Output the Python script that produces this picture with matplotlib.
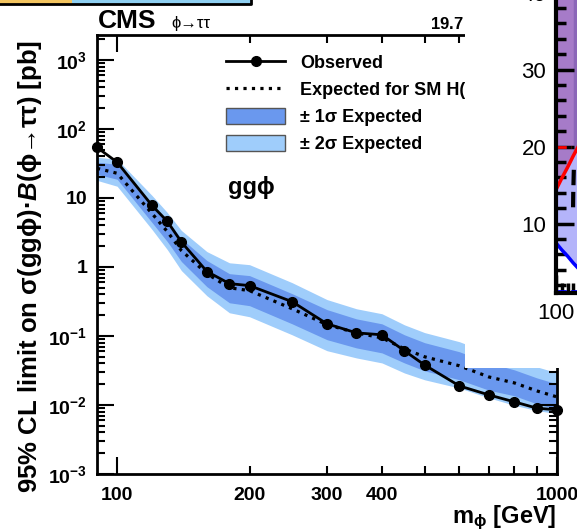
import numpy as np
import matplotlib.pyplot as plt
from matplotlib.lines import Line2D
from matplotlib.patches import Patch, Rectangle
from matplotlib.ticker import LogLocator, NullFormatter, MultipleLocator

plt.rcParams['font.family'] = ['Liberation Sans', 'DejaVu Sans']
plt.rcParams['font.weight'] = 'bold'
plt.rcParams['mathtext.fontset'] = 'custom'
plt.rcParams['mathtext.rm'] = 'Liberation Sans'
plt.rcParams['mathtext.bf'] = 'Liberation Sans:bold'
plt.rcParams['mathtext.it'] = 'Liberation Sans:italic'
plt.rcParams['mathtext.default'] = 'bf'

# ggphi limits (pb) vs mass (GeV)
masses = [90, 100, 120, 130, 140, 160, 180, 200, 250, 300, 350, 400, 450, 500, 600, 700, 800, 900, 1000]
observed = [54, 33, 7.8, 4.6, 2.3, 0.86, 0.574, 0.537, 0.314, 0.150, 0.111, 0.104, 0.061, 0.038,
            0.0189, 0.0140, 0.0111, 0.0090, 0.0085]
expected = [26.9, 22.8, 5.97, 3.27, 1.73, 0.80, 0.50, 0.454, 0.248, 0.146, 0.111, 0.094, 0.065, 0.050,
            0.037, 0.0255, 0.0209, 0.016, 0.0131]
plus2 = [38.9, 36.4, 10.9, 6.17, 3.38, 1.67, 1.15, 1.08, 0.592, 0.337, 0.248, 0.210, 0.145, 0.112,
         0.0826, 0.0569, 0.0467, 0.0357, 0.0293]
plus1 = [32.9, 30.8, 8.35, 4.73, 2.58, 1.24, 0.80, 0.75, 0.410, 0.241, 0.177, 0.150, 0.104, 0.080,
         0.0591, 0.0407, 0.0323, 0.0247, 0.0202]
minus1 = [22.0, 18.7, 4.42, 2.34, 1.20, 0.518, 0.303, 0.275, 0.150, 0.0884, 0.0672, 0.0569, 0.0407, 0.0313,
          0.0232, 0.0164, 0.0136, 0.0104, 0.0087]
minus2 = [18.0, 14.8, 3.50, 1.79, 0.886, 0.383, 0.217, 0.190, 0.104, 0.0612, 0.0481, 0.0407, 0.0291, 0.0232,
          0.0176, 0.0127, 0.0099, 0.0083, 0.0075]

ytick_vals = [1e-3, 1e-2, 1e-1, 1, 10, 1e2, 1e3]
ytick_labels = [r'$10^{-3}$', r'$10^{-2}$', r'$10^{-1}$', '1', '10', r'$10^{2}$', r'$10^{3}$']

# neighbouring panel (tanb exclusion), left edge only
nb_mass = [100, 105, 110, 115, 120]
nb_red = [14.4, 15.9, 17.3, 18.8, 20.2]
nb_blue = [7.5, 6.6, 5.8, 4.9, 4.1]

c1 = '#6a98ee'
c2 = '#9fcdfb'

fig = plt.figure(figsize=(5.77, 5.32), dpi=100)
W, H = 577, 532
ax = fig.add_axes([97 / W, 58 / H, 460 / W, 439 / H])

ax.fill_between(masses, minus2, plus2, color=c2, lw=0)
ax.fill_between(masses, minus1, plus1, color=c1, lw=0)
ax.plot(masses, expected, color='k', ls=':', lw=2.3)
ax.plot(masses, observed, color='k', lw=2, marker='o', ms=7, clip_on=False, zorder=5)

ax.set_xscale('log')
ax.set_yscale('log')
ax.set_xlim(90, 1000)
ax.set_ylim(1e-3, 2300)

ax.set_xticks([100, 1000], labels=['100', '1000'])
ax.set_xticks([200, 300, 400, 500, 600, 700, 800, 900],
              labels=['200', '300', '400', '', '', '', '', ''], minor=True)
ax.set_yticks(ytick_vals, labels=ytick_labels)
ax.yaxis.set_minor_locator(LogLocator(base=10, subs=np.arange(2, 10), numticks=100))
ax.yaxis.set_minor_formatter(NullFormatter())
ax.tick_params(which='both', direction='in', top=True, right=True, width=1.5, labelsize=14)
ax.tick_params(which='major', length=12)
ax.tick_params(which='minor', length=6)
ax.tick_params(axis='x', which='both', pad=9)
ax.tick_params(axis='y', which='both', pad=7)
for s in ax.spines.values():
    s.set_linewidth(2)

handles = [Line2D([], [], color='k', lw=2, marker='o', ms=7),
           Line2D([], [], color='k', lw=2.3, ls=':'),
           Patch(fc=c1, ec='#555555', lw=1),
           Patch(fc=c2, ec='#555555', lw=1)]
labels = ['Observed', 'Expected for SM H(125 GeV)', '± 1σ Expected', '± 2σ Expected']
ax.legend(handles, labels, loc='upper left', bbox_to_anchor=(0.28, 0.957), frameon=False,
          fontsize=13, handlelength=3.3, handletextpad=0.8, labelspacing=0.51,
          borderaxespad=0, borderpad=0, handleheight=0.95)

fig.text(228 / W, 1 - 188 / H, 'ggϕ', fontsize=17, va='center')
fig.text(98 / W, 1 - 28 / H, 'CMS', fontsize=19, va='baseline')
fig.text(171 / W, 1 - 28 / H, 'ϕ→ττ', fontsize=12, fontweight='normal', va='baseline')
fig.text(430 / W, 1 - 29 / H, '19.7 fb$^{-1}$ (8 TeV)', fontsize=12, va='baseline')
fig.text(30 / W, 1 - 266 / H, '95% CL limit on σ(ggϕ)·$\\mathit{B}$(ϕ→ττ) [pb]',
         rotation=90, fontsize=18.5, ha='center', va='center')
fig.text(452 / W, 1 - 518 / H, r'm$_{\phi}$ [GeV]', fontsize=17, ha='left', va='center')

# panel on the right covers part of this one
fig.add_artist(Rectangle((465 / W, 1 - 368 / H), 120 / W, 380 / H, transform=fig.transFigure,
                         fc='white', ec='none', zorder=5))

# strip of a legend box above
fig.add_artist(Rectangle((0, 1 - 4 / H), 72 / W, 10 / H, transform=fig.transFigure,
                         fc='#f4c560', ec='none', zorder=6))
fig.add_artist(Rectangle((72 / W, 1 - 4 / H), 179 / W, 10 / H, transform=fig.transFigure,
                         fc='#8fd0f2', ec='none', zorder=6))
fig.add_artist(Line2D([0, 251 / W, 251 / W], [1 - 4 / H, 1 - 4 / H, 1.01], transform=fig.transFigure,
                      color='k', lw=2, zorder=7))

axi = fig.add_axes([556 / W, 1 - 293 / H, 115 / W, 303 / H], zorder=10)
axi.set_xlim(100, 200)
axi.set_ylim(1, 40.35)
axi.fill_between(nb_mass, nb_blue, nb_red, color='#b4b4fa', lw=0)
axi.fill_between(nb_mass, nb_red, 41, color='#a67bc8', lw=0)
axi.fill_between([115, 120], [18.8, 20.2], 41, color='#8b66b8', lw=0)
axi.plot(nb_mass, nb_red, color='red', lw=2.5)
axi.plot(nb_mass, nb_blue, color='blue', lw=2.5)
axi.plot([100, 113], [20, 20], color='red', ls='--', lw=2)
axi.plot([100, 120], [1.3, 1.3], color='blue', ls='--', lw=2)
axi.plot([115.5, 115.0, 114.8], [17, 14, 11.5], color='k', ls='--', lw=3)
axi.yaxis.set_major_locator(MultipleLocator(10))
axi.yaxis.set_minor_locator(MultipleLocator(2))
axi.set_xticks([100])
axi.xaxis.set_minor_locator(MultipleLocator(5))
axi.tick_params(which='both', direction='in', width=2.5, labelsize=16, pad=7)
axi.tick_params(which='major', length=13)
axi.tick_params(which='minor', length=7)
for lbl in axi.get_xticklabels() + axi.get_yticklabels():
    lbl.set_fontweight('normal')
for s in axi.spines.values():
    s.set_linewidth(3)

fig.savefig('out.png', dpi=100)
